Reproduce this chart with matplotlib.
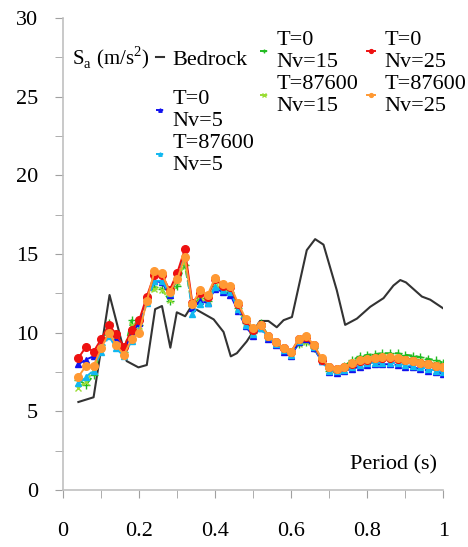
import numpy as np
import matplotlib
matplotlib.use('Agg')
import matplotlib.pyplot as plt

plt.rcParams['font.family'] = ['Liberation Serif', 'DejaVu Serif']
plt.rcParams['mathtext.fontset'] = 'custom'
plt.rcParams['mathtext.rm'] = 'Liberation Serif'

# Bedrock response spectrum
bed_T = [0.04, 0.08, 0.122, 0.167, 0.198, 0.22, 0.242, 0.26, 0.282, 0.299, 0.321, 0.334, 0.352,
         0.396, 0.422, 0.441, 0.457, 0.483, 0.518, 0.54, 0.562, 0.58, 0.602, 0.641, 0.663, 0.685,
         0.72, 0.742, 0.773, 0.808, 0.843, 0.869, 0.887, 0.902, 0.944, 0.966, 1.0]
bed_Sa = [5.6, 5.9, 12.4, 8.2, 7.8, 7.95, 11.5, 11.7, 9.05, 11.3, 11.05, 11.55, 11.45,
          10.85, 10.05, 8.5, 8.7, 9.45, 10.75, 10.75, 10.35, 10.8, 11.0, 15.25, 15.95, 15.6,
          12.7, 10.5, 10.9, 11.65, 12.2, 13.0, 13.35, 13.2, 12.3, 12.1, 11.55]

# Soil surface spectra
period = [0.04, 0.06, 0.08, 0.10, 0.12, 0.14, 0.16, 0.18, 0.20, 0.22, 0.24, 0.26, 0.28, 0.30,
          0.32, 0.34, 0.36, 0.38, 0.40, 0.42, 0.44, 0.46, 0.48, 0.50, 0.52, 0.54, 0.56, 0.58,
          0.60, 0.62, 0.64, 0.66, 0.68, 0.70, 0.72, 0.74, 0.76, 0.78, 0.80, 0.82, 0.84, 0.86,
          0.88, 0.90, 0.92, 0.94, 0.96, 0.98, 1.00]

t0_nv5 = [8.0, 8.3, 8.5, 9.3, 10.3, 9.6, 8.8, 10.0, 10.6, 12.1, 13.3, 13.2, 12.4, 13.5,
          15.0, 11.6, 12.0, 11.9, 12.8, 12.6, 12.4, 11.4, 10.4, 9.8, 10.3, 9.6, 9.2, 8.8,
          8.5, 9.4, 9.6, 9.0, 8.2, 7.5, 7.45, 7.6, 7.7, 7.85, 7.95, 8.0, 8.0, 8.0,
          7.95, 7.85, 7.8, 7.7, 7.6, 7.5, 7.4]
t0_nv15 = [7.0, 6.7, 7.3, 9.2, 10.6, 9.4, 8.8, 10.8, 10.5, 12.2, 12.9, 12.8, 12.0, 13.0,
           14.3, 11.7, 12.2, 12.0, 13.0, 12.8, 12.6, 11.6, 10.6, 10.0, 10.6, 9.8, 9.4, 9.0,
           8.7, 9.3, 9.4, 9.0, 8.3, 7.6, 7.5, 7.9, 8.25, 8.5, 8.6, 8.65, 8.7, 8.7,
           8.7, 8.6, 8.55, 8.45, 8.35, 8.25, 8.1]
t0_nv25 = [8.4, 9.1, 8.8, 9.6, 10.5, 9.9, 9.1, 10.2, 10.8, 12.3, 13.7, 13.7, 12.7, 13.8,
           15.3, 11.9, 12.5, 12.3, 13.4, 13.0, 12.9, 11.8, 10.8, 10.2, 10.5, 9.8, 9.4, 9.0,
           8.8, 9.6, 9.7, 9.2, 8.3, 7.8, 7.7, 7.8, 8.0, 8.2, 8.3, 8.4, 8.4, 8.4,
           8.35, 8.3, 8.2, 8.1, 8.0, 7.9, 7.8]
t876_nv5 = [6.8, 7.2, 7.6, 8.8, 9.8, 9.0, 8.5, 9.5, 10.2, 11.9, 13.3, 13.3, 12.5, 13.6,
            15.0, 11.2, 11.8, 11.9, 12.9, 12.7, 12.6, 11.5, 10.5, 9.9, 10.3, 9.7, 9.3, 8.9,
            8.6, 9.5, 9.7, 9.1, 8.2, 7.6, 7.55, 7.65, 7.8, 7.95, 8.05, 8.1, 8.1, 8.1,
            8.05, 7.95, 7.9, 7.8, 7.7, 7.6, 7.5]
t876_nv15 = [6.5, 6.9, 7.6, 9.0, 10.4, 9.3, 8.7, 10.5, 10.4, 12.0, 12.8, 12.7, 12.1, 13.2,
             14.5, 11.6, 12.1, 12.0, 13.0, 12.8, 12.6, 11.6, 10.6, 10.0, 10.5, 9.8, 9.4, 9.0,
             8.7, 9.3, 9.4, 9.0, 8.3, 7.6, 7.5, 7.8, 8.0, 8.2, 8.35, 8.4, 8.45, 8.45,
             8.4, 8.35, 8.3, 8.2, 8.1, 8.0, 7.9]
t876_nv25 = [7.2, 7.9, 7.9, 9.0, 10.0, 9.2, 8.6, 9.6, 10.0, 12.0, 13.9, 13.8, 12.6, 13.4,
             14.8, 11.8, 12.7, 12.4, 13.5, 13.1, 13.0, 11.9, 10.9, 10.3, 10.5, 9.8, 9.4, 9.0,
             8.8, 9.6, 9.8, 9.2, 8.4, 7.8, 7.7, 7.85, 8.05, 8.25, 8.35, 8.4, 8.45, 8.45,
             8.4, 8.3, 8.2, 8.1, 8.0, 7.9, 7.8]

fig = plt.figure(figsize=(4.68, 5.47), dpi=100)
ax = fig.add_axes([0.135, 0.104, 0.812, 0.863])

bed, = ax.plot(bed_T, bed_Sa, color='#333333', lw=1.5, label='Bedrock')
l15, = ax.plot(period, t0_nv15, color='#22bb22', ls='--', lw=1.4, marker='+', ms=5.5, label='T=0\nNv=15')
l876_15, = ax.plot(period, t876_nv15, color='#99dd33', ls='--', lw=1.4, marker='x', ms=4.5, label='T=87600\nNv=15')
l5, = ax.plot(period, t0_nv5, color='#1111ee', ls='--', lw=1.4, marker='^', ms=5, label='T=0\nNv=5')
l876_5, = ax.plot(period, t876_nv5, color='#11b8f0', ls='--', lw=1.4, marker='^', ms=5, label='T=87600\nNv=5')
l25, = ax.plot(period, t0_nv25, color='#ee1111', lw=1.4, marker='o', ms=5.5, label='T=0\nNv=25')
l876_25, = ax.plot(period, t876_nv25, color='#ff9933', lw=1.4, marker='o', ms=5.5, label='T=87600\nNv=25')

ax.set_xlim(0, 1)
ax.set_ylim(0, 30)
ax.set_xticks(np.arange(0, 1.01, 0.2))
ax.set_xticklabels(['0', '0.2', '0.4', '0.6', '0.8', '1'])
ax.set_xticks(np.arange(0.1, 1.0, 0.2), minor=True)
ax.set_yticks(np.arange(0, 31, 5))
ax.set_yticks(np.arange(2.5, 30, 5), minor=True)
for s in ['top', 'right']:
    ax.spines[s].set_visible(False)
for s in ['left', 'bottom']:
    ax.spines[s].set_color('#c0c0c0')
    ax.spines[s].set_linewidth(1.2)
ax.tick_params(which='both', color='#a0a0a0', length=6, labelsize=16)
ax.tick_params(axis='x', which='major', pad=17)
ax.tick_params(axis='y', which='major', pad=12)

ax.text(0.985, 1.6, 'Period (s)', fontsize=16, ha='right', va='center')
ax.text(0.022, 27.5, r'S$_\mathregular{a}$ (m/s$^\mathregular{2}$)', fontsize=15, ha='left', va='center')

kw = dict(frameon=False, fontsize=16, handlelength=0.35, handletextpad=0.4,
          markerscale=0.5, borderpad=0, borderaxespad=0, labelspacing=0.15, columnspacing=0.4)
leg1 = fig.legend(handles=[bed], loc='center left', bbox_to_anchor=(156 / 468, 1 - 60 / 547), **kw)
leg2 = fig.legend(handles=[l5, l876_5], loc='upper left', bbox_to_anchor=(156 / 468, 1 - 90 / 547), **kw)
leg3 = fig.legend(handles=[l15, l876_15, l25, l876_25], ncol=2, loc='upper left',
                  bbox_to_anchor=(260 / 468, 1 - 31 / 547), **kw)

fig.savefig('out.png', dpi=100)
